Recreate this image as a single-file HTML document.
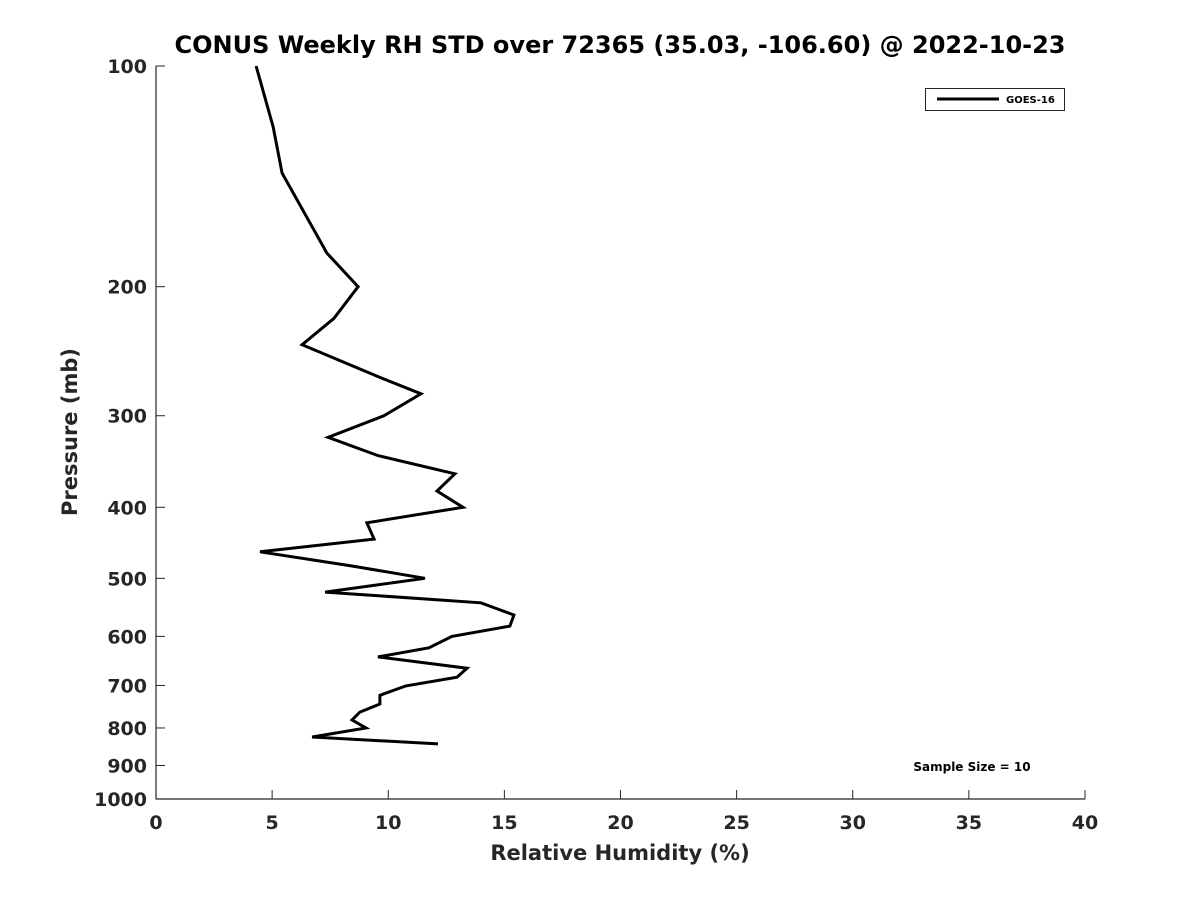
<!DOCTYPE html>
<html><head><meta charset="utf-8"><style>
body{margin:0;background:#fff}
svg text{font-family:"DejaVu Sans","Liberation Sans",sans-serif;font-weight:bold;fill:#262626}
</style></head><body>
<svg id="chart" width="1200" height="900" xmlns="http://www.w3.org/2000/svg">
<rect width="1200" height="900" fill="#fff"/>
<text x="620" y="53" text-anchor="middle" font-size="24" style="fill:#000">CONUS Weekly RH STD over 72365 (35.03, -106.60) @ 2022-10-23</text>
<g id="axes"></g>
<g id="series"></g>
<text x="620" y="860" text-anchor="middle" font-size="21">Relative Humidity (%)</text>
<text transform="translate(77,432) rotate(-90)" text-anchor="middle" font-size="21">Pressure (mb)</text>
<g>
<rect x="925.5" y="88.5" width="139" height="22" fill="#fff" stroke="#262626" stroke-width="1"/>
<line x1="937" y1="99" x2="999" y2="99" stroke="#000" stroke-width="3"/>
<text x="1006" y="103" font-size="10" style="fill:#000">GOES-16</text>
</g>
<text x="972" y="771" text-anchor="middle" font-size="12" style="fill:#000">Sample Size = 10</text>
</svg>
<script>
const rhValues=[4.31,5.04,5.43,7.36,8.70,7.66,6.29,9.64,11.41,9.82,7.41,9.56,12.87,12.10,13.22,9.08,9.39,4.48,8.44,11.58,7.28,13.99,15.41,15.24,12.74,11.75,9.56,13.39,12.96,10.76,9.64,9.64,8.78,8.44,9.04,6.72,12.14];
const pressures=[100,121,140,180,200,221,240,266,280,300,321,340,360,380,400,420,442,460,481,500,522,540,561,581,600,622,640,663,682,701,722,742,761,780,800,823,841];
const xTicks=[0,5,10,15,20,25,30,35,40];
const yTicks=[100,200,300,400,500,600,700,800,900,1000];
const X0=156,X1=1085,Y0=66,Y1=799;
const xs=v=>X0+(v-0)/(40-0)*(X1-X0);
const ys=p=>Y0+(Math.log10(p)-2)*(Y1-Y0);
const NS="http://www.w3.org/2000/svg";
const axes=document.getElementById('axes');
function mk(tag,attrs,parent){const e=document.createElementNS(NS,tag);for(const k in attrs)e.setAttribute(k,attrs[k]);parent.appendChild(e);return e;}
let l=mk('line',{x1:X0,y1:Y0,x2:X0,y2:Y1+0.5,stroke:'#262626','stroke-width':1.2},axes);


l=mk('line',{x1:X0,y1:Y1,x2:X1,y2:Y1,stroke:'#262626','stroke-width':1.2},axes);


xTicks.forEach(v=>{
 const x=xs(v);
 const t=mk('line',{x1:x,y1:Y1,x2:x,y2:Y1-9,stroke:'#262626','stroke-width':1},axes);
 
 
 const tx=mk('text',{x:x,y:829,'text-anchor':'middle','font-size':19},axes);
 tx.textContent=v;
 
 
});
yTicks.forEach(v=>{
 const y=ys(v);
 const t=mk('line',{x1:X0,y1:y,x2:X0+9,y2:y,stroke:'#262626','stroke-width':1},axes);
 
 
 const tx=mk('text',{x:147,y:y+7,'text-anchor':'end','font-size':19},axes);
 tx.textContent=v;
 
 
});
const pts=rhValues.map((v,i)=>xs(v).toFixed(1)+','+ys(pressures[i]).toFixed(1)).join(' ');
const pl=mk('polyline',{points:pts,fill:'none',stroke:'#000','stroke-width':3,'stroke-linejoin':'miter'},document.getElementById('series'));


</script>
</body></html>
